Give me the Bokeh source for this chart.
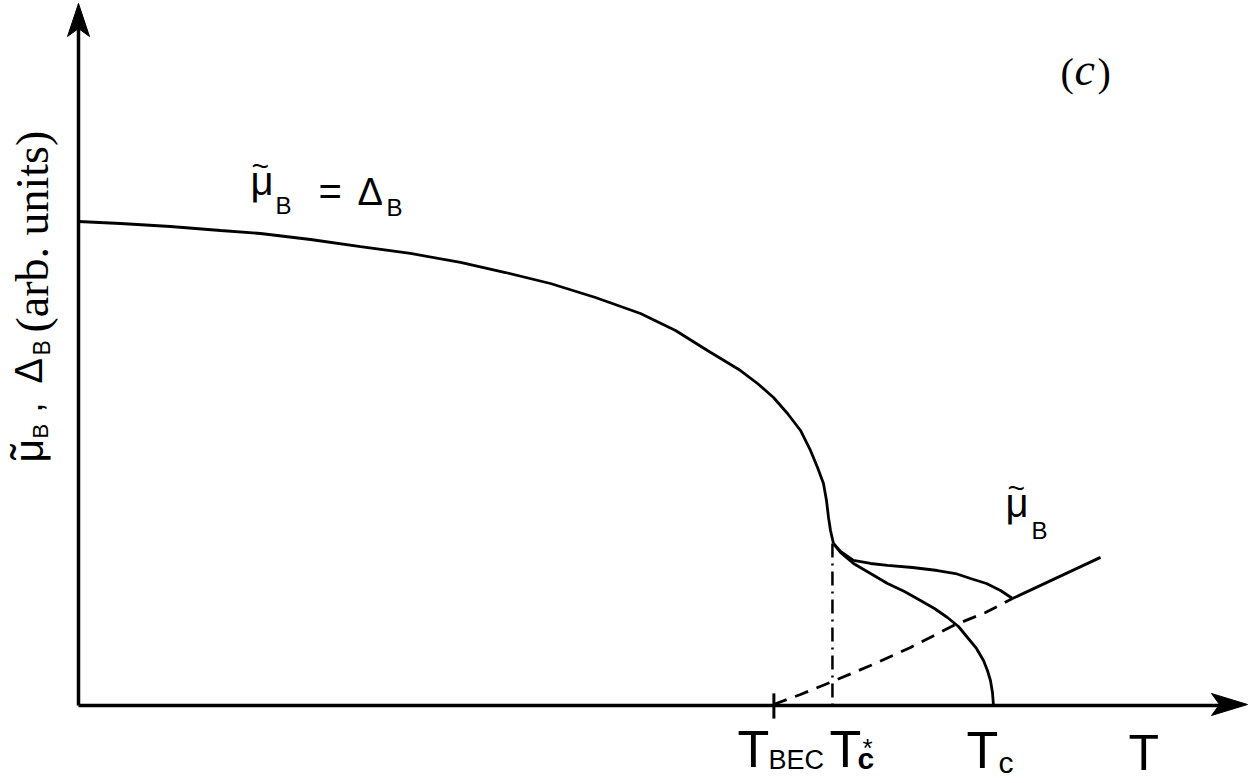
import numpy as np
from bokeh.plotting import figure
from bokeh.models import Range1d, Label
from bokeh.embed import file_html
from bokeh.resources import INLINE

# ---------------- data (T in units of T_c, mu/Delta in arbitrary units) -------------
T_BEC = 0.760
T_CSTAR = 0.824
T_C = 1.0

# mu_B = Delta_B below T_c*
main_T = [0.0, 0.0459, 0.1005, 0.1552, 0.1989, 0.2536, 0.3082, 0.3628, 0.4175,
          0.4667, 0.5158, 0.5650, 0.6142, 0.6525, 0.6874, 0.7235, 0.7421, 0.7596,
          0.7749, 0.7891, 0.8000, 0.8077, 0.8142, 0.8175, 0.8197, 0.8219, 0.8251]
main_mu = [1.0, 0.9959, 0.9897, 0.9814, 0.9752, 0.9628, 0.9483, 0.9339, 0.9153,
           0.8946, 0.8719, 0.8430, 0.8099, 0.7748, 0.7335, 0.6921, 0.6653, 0.6364,
           0.6033, 0.5682, 0.5269, 0.4917, 0.4587, 0.4236, 0.3884, 0.3616, 0.3347]

# mu_B above T_c* (upper branch)
mu_T = [0.8251, 0.8328, 0.8470, 0.8656, 0.8842, 0.9115, 0.9388, 0.9585, 0.9749,
        0.9923, 1.0077, 1.0208]
mu_val = [0.3347, 0.3182, 0.2996, 0.2934, 0.2893, 0.2851, 0.2789, 0.2727, 0.2624,
          0.2521, 0.2376, 0.2211]

# Delta_B above T_c* (lower branch)
delta_T = [0.8251, 0.8328, 0.8470, 0.8656, 0.8842, 0.9027, 0.9202, 0.9355, 0.9497,
           0.9617, 0.9716, 0.9814, 0.9891, 0.9934, 0.9967, 0.9989, 1.0]
delta_val = [0.3347, 0.3161, 0.2934, 0.2727, 0.2521, 0.2355, 0.2169, 0.2004, 0.1818,
             0.1632, 0.1405, 0.1178, 0.0930, 0.0723, 0.0517, 0.0269, 0.0]

# non-interacting mu_B (dashed below the junction, solid above)
free_T = [0.7596, 0.7891, 0.8240, 0.8656, 0.9093, 0.9563, 0.9913, 1.0208]
free_mu = [0.0021, 0.0227, 0.0496, 0.0826, 0.1198, 0.1653, 0.1921, 0.2211]
high_T = [1.0208, 1.117]
high_mu = [0.2211, 0.306]

# ---------------- figure ----------------
W, H = 1251, 783
X0, X1 = -0.08525, 1.2820
Y0, Y1 = -0.16116, 1.4566

p = figure(width=W, height=H, output_backend="svg", toolbar_location=None,
           x_range=Range1d(X0, X1), y_range=Range1d(Y0, Y1),
           x_axis_type=None, y_axis_type=None, min_border=0)
p.min_border_left = p.min_border_right = p.min_border_top = p.min_border_bottom = 0
p.grid.visible = False
p.outline_line_color = None
p.background_fill_color = "white"
p.border_fill_color = "white"

# helpers converting screen pixel positions to data (for decorations / text)
def X(px):
    return X0 + px * (X1 - X0) / W

def Y(py):
    return Y1 - py * (Y1 - Y0) / H

BLACK = "black"

# axes with arrow heads
p.line([0, X(1222)], [0, 0], line_color=BLACK, line_width=3.5)
p.line([0, 0], [0, Y(25)], line_color=BLACK, line_width=3.5)
p.patch([X(1247), X(1211), X(1219), X(1211)], [Y(704), Y(693), Y(704), Y(715)],
        fill_color=BLACK, line_color=BLACK)
p.patch([X(78), X(67), X(78), X(89)], [Y(3), Y(36), Y(28), Y(36)],
        fill_color=BLACK, line_color=BLACK)

# curves
LW = 2.8
p.line(main_T, main_mu, line_color=BLACK, line_width=LW)
p.line(mu_T, mu_val, line_color=BLACK, line_width=LW)
p.line(delta_T, delta_val, line_color=BLACK, line_width=LW)
p.line(free_T, free_mu, line_color=BLACK, line_width=LW, line_dash="14 9")
p.line(high_T, high_mu, line_color=BLACK, line_width=LW)

# T_c* dash-dot marker and T_BEC tick
p.line([T_CSTAR, T_CSTAR], [main_mu[-1], 0], line_color=BLACK, line_width=2.5,
       line_dash="14 6 2 6")
p.line([T_BEC, T_BEC], [0.025, -0.027], line_color=BLACK, line_width=3)

SANS = "'Liberation Sans'"
SERIF = "'Liberation Serif'"
SHIFT = 0.36  # compensation of the label baseline placement (in em)

def lab(text, px, py, size, font=SANS, style="normal", angle=0.0):
    if angle == 0.0:
        py = py - SHIFT * size
    else:
        px = px - SHIFT * size
    p.add_layout(Label(x=X(px), y=Y(py), text=text, text_font=font,
                       text_font_size=f"{size}px", text_font_style=style,
                       text_color=BLACK, text_align="left",
                       text_baseline="alphabetic", angle=angle))

# (c)
lab("(", 1060, 86, 40, SERIF)
lab("c", 1074, 86, 46, SERIF, "italic")
lab(")", 1097, 86, 40, SERIF)

# mu_B = Delta_B
lab("~", 251, 176, 30)
lab("\u03bc", 250, 195, 40)
lab("B", 275, 214, 24)
lab("=", 318, 205, 40)
lab("\u0394", 357, 205, 38)
lab("B", 386, 216, 24)

# mu_B (right)
lab("~", 1007, 498, 30)
lab("\u03bc", 1005, 517, 40)
lab("B", 1031, 539, 24)

# axis tick labels
lab("T", 737, 767, 52)
lab("BEC", 768, 769, 27)
lab("T", 829, 767, 52)
lab("c", 857, 769, 30, SANS, "bold")
lab("*", 862, 757, 26)
lab("T", 966, 768, 52)
lab("c", 998, 773, 30)
lab("T", 1128, 770, 50)

# rotated y label
A = np.pi / 2
lab("\u02dc", 43, 459, 46, angle=A)
lab("\u03bc", 43, 462, 41, angle=A)
lab("B", 48, 438, 22, angle=A)
lab(",", 41, 412, 36, angle=A)
lab("\u0394", 42, 383, 38, angle=A)
lab("B", 50, 355, 23, angle=A)
lab("(arb. units)", 49, 332, 46, SERIF, angle=A)

open("out.html", "w").write(file_html(p, INLINE))
